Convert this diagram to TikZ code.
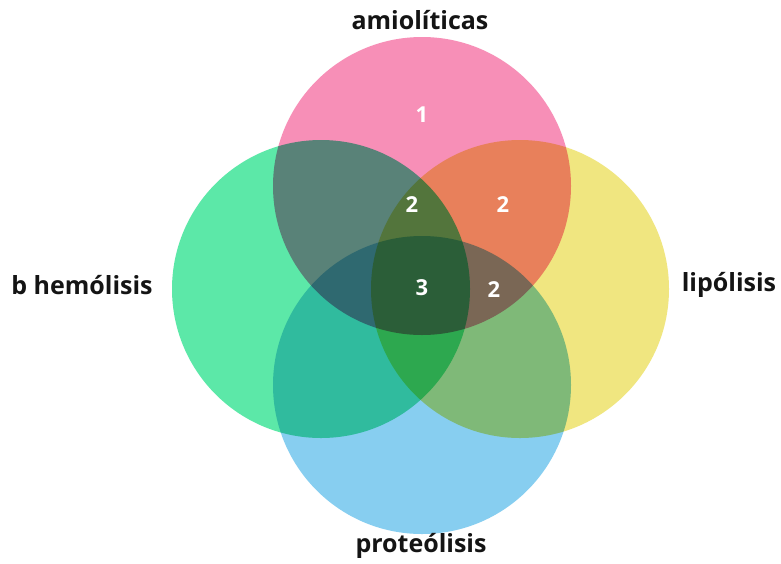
\documentclass[tikz,border=0pt]{standalone}
\usepackage{fontspec}
\setmainfont{Open Sans}
\usepackage{tikz}
\definecolor{rosa}{HTML}{F78FB7}
\definecolor{verde}{HTML}{5CE8A8}
\definecolor{amarelo}{HTML}{F0E680}
\definecolor{azul}{HTML}{87CEF0}
\definecolor{darktext}{HTML}{141414}
\tikzset{every node/.append style={font=\bfseries}}
\tikzset{rotulo/.style={darktext,font=\fontsize{25}{30}\bfseries\selectfont}}
\tikzset{contagem/.style={white,font=\fontsize{22}{26}\bfseries\selectfont}}

\begin{document}
\begin{tikzpicture}[x=1pt,y=-1pt]
  \useasboundingbox (0,0) rectangle (781,563);
  \fill[white] (0,0) rectangle (781,563);
  % quatro circulos, mistura por multiplicacao
  \begin{scope}[blend group=multiply]
    \fill[rosa] (422,186) circle[radius=149];
    \fill[verde] (321,289) circle[radius=149];
    \fill[amarelo] (520,289) circle[radius=149];
    \fill[azul] (422,385) circle[radius=149];
  \end{scope}
  \node[rotulo] (amilo) at (420,20) {amiolíticas};
  \node[rotulo] (hemo) at (82,285) {b hemólisis};
  \node[rotulo] (lipo) at (729,285) {lipólisis};
  \node[rotulo] (prote) at (421,546) {proteólisis};
  \node[contagem] (n1) at (422,115) {1};
  \node[contagem] (n2a) at (412,205) {2};
  \node[contagem] (n2b) at (503,205) {2};
  \node[contagem] (n3) at (422,288) {3};
  \node[contagem] (n2c) at (494,290) {2};
\end{tikzpicture}
\end{document}
